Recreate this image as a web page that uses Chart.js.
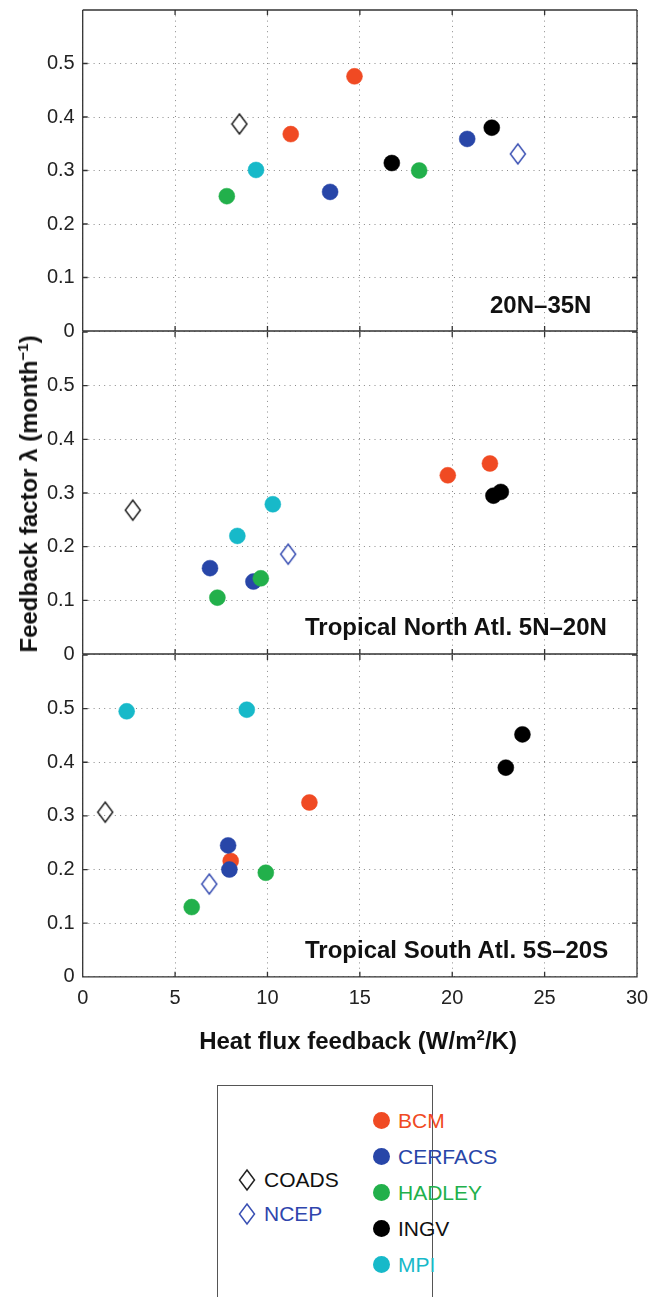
<!DOCTYPE html>
<html>
<head>
<meta charset="utf-8">
<script src="https://cdn.jsdelivr.net/npm/chart.js@4.4.0/dist/chart.umd.min.js"></script>
<style>
  body { margin: 0; background: #fff; font-family: "Liberation Sans", Arial, sans-serif; }
  #wrap { position: relative; width: 650px; height: 1297px; overflow: hidden; }
  canvas { position: absolute; left: 0; }
  .lbl { position: absolute; font-weight: bold; font-size: 24px; line-height: 24px; color: #111; white-space: nowrap; }
  .lbl sup { font-size: 15px; line-height: 0; vertical-align: 9px; }
  #legend { position: absolute; left: 217px; top: 1085px; width: 214px; height: 260px; border: 1.5px solid #555; }
  .item { position: absolute; font-size: 21px; line-height: 22px; white-space: nowrap; }
  .dot { position: absolute; width: 17px; height: 17px; border-radius: 50%; }
</style>
</head>
<body>
<div id="wrap">
  <canvas id="p0"></canvas>
  <canvas id="p1"></canvas>
  <canvas id="p2"></canvas>
  <div class="lbl" id="r0"></div>
  <div class="lbl" id="r1"></div>
  <div class="lbl" id="r2"></div>
  <div class="lbl" style="left:358px;top:1029px;transform:translateX(-50%);">Heat flux feedback (W/m<sup>2</sup>/K)</div>
  <div class="lbl" style="left:28.5px;top:494px;transform:translate(-50%,-50%) rotate(-90deg);">Feedback factor λ (month<sup>−1</sup>)</div>
  <div id="legend"></div>
</div>
<script>
// Panel names, top to bottom
var regions = ["20N–35N", "Tropical North Atl. 5N–20N", "Tropical South Atl. 5S–20S"];

// Model runs: [heat flux feedback, feedback factor], one list per panel
var BCM = [[[11.26, 0.368], [14.71, 0.476]], [[19.76, 0.333], [22.04, 0.355]], [[12.27, 0.325], [8.01, 0.216]]];
var CERFACS = [[[13.39, 0.260], [20.81, 0.359]], [[6.89, 0.160], [9.24, 0.135]], [[7.87, 0.245], [7.94, 0.200]]];
var HADLEY = [[[7.80, 0.252], [18.21, 0.300]], [[7.29, 0.105], [9.64, 0.141]], [[9.91, 0.194], [5.90, 0.130]]];
var INGV = [[[16.73, 0.314], [22.14, 0.380]], [[22.23, 0.295], [22.63, 0.302]], [[23.80, 0.452], [22.90, 0.390]]];
var MPI = [[[9.38, 0.301]], [[8.37, 0.220], [10.29, 0.279]], [[2.38, 0.495], [8.88, 0.498]]];

// Observations
var COADS = [[[8.48, 0.387]], [[2.71, 0.268]], [[1.22, 0.307]]];
var NCEP = [[[23.55, 0.331]], [[11.12, 0.186]], [[6.85, 0.173]]];

var models = [
  { name: "BCM", data: BCM, color: "#f04a23" },
  { name: "CERFACS", data: CERFACS, color: "#2846a8" },
  { name: "HADLEY", data: HADLEY, color: "#22b04b" },
  { name: "INGV", data: INGV, color: "#000000" },
  { name: "MPI", data: MPI, color: "#17b9c9" }
];
var obs = [
  { name: "COADS", data: COADS, color: "#222222", text: "#111111" },
  { name: "NCEP", data: NCEP, color: "#3a50b3", text: "#2f45ad" }
];

Chart.defaults.font.family = '"Liberation Sans", Arial, sans-serif';
Chart.defaults.color = "#222";

// Hollow diamond marker, a bit taller than wide
function diamond(color) {
  var c = document.createElement("canvas");
  c.width = 18;
  c.height = 24;
  var g = c.getContext("2d");
  g.strokeStyle = color;
  g.lineWidth = 1.5;
  g.beginPath();
  g.moveTo(9, 2);
  g.lineTo(16.5, 12);
  g.lineTo(9, 22);
  g.lineTo(1.5, 12);
  g.closePath();
  g.stroke();
  return c;
}

// Box round the axes with inward tick marks (top edge only on the first panel,
// the others share the bottom edge of the panel above)
var frame = {
  id: "frame",
  beforeDatasetsDraw: function (chart) {
    var ctx = chart.ctx, a = chart.chartArea, x = chart.scales.x, y = chart.scales.y;
    ctx.save();
    ctx.strokeStyle = "#333";
    ctx.lineWidth = 1.3;
    ctx.beginPath();
    if (chart.options.firstPanel) {
      ctx.moveTo(a.left, a.top); ctx.lineTo(a.right, a.top);
    }
    ctx.moveTo(a.right, a.top); ctx.lineTo(a.right, a.bottom);
    ctx.lineTo(a.left, a.bottom); ctx.lineTo(a.left, a.top);
    x.ticks.forEach(function (t) {
      var px = x.getPixelForValue(t.value);
      ctx.moveTo(px, a.bottom); ctx.lineTo(px, a.bottom - 5);
      ctx.moveTo(px, a.top); ctx.lineTo(px, a.top + 5);
    });
    y.ticks.forEach(function (t) {
      var py = y.getPixelForValue(t.value);
      ctx.moveTo(a.left, py); ctx.lineTo(a.left + 5, py);
      ctx.moveTo(a.right, py); ctx.lineTo(a.right - 5, py);
    });
    ctx.stroke();
    ctx.restore();
  }
};

// labels may hang over the plot edge; keep the plot box fixed anyway
function noPad(s) {
  s.paddingTop = 0; s.paddingBottom = 0; s.paddingLeft = 0; s.paddingRight = 0;
}

var plotTop = 9, plotH = 322.6, plotLeft = 82.7, plotRight = 637;

regions.forEach(function (region, k) {
  var last = k === regions.length - 1;
  var axisH = last ? 40 : 0;
  var areaTop = plotTop + k * plotH;
  var canvasTop = Math.floor(areaTop - 10);
  var padTop = areaTop - canvasTop;
  var canvasH = Math.ceil(padTop + plotH + 10 + axisH);
  var canvas = document.getElementById("p" + k);
  canvas.width = 650;
  canvas.height = canvasH;
  canvas.style.top = canvasTop + "px";

  var datasets = [];
  models.forEach(function (m, i) {
    datasets.push({
      label: m.name,
      data: m.data[k].map(function (p) { return { x: p[0], y: p[1] }; }),
      backgroundColor: m.color,
      borderColor: m.color,
      borderWidth: 0.5,
      pointRadius: 8,
      order: 20 - i
    });
  });
  obs.forEach(function (o, i) {
    datasets.push({
      label: o.name,
      data: o.data[k].map(function (p) { return { x: p[0], y: p[1] }; }),
      pointStyle: diamond(o.color),
      pointRadius: 10,
      order: 5 - i
    });
  });

  new Chart(canvas, {
    type: "scatter",
    data: { datasets: datasets },
    plugins: [frame],
    options: {
      firstPanel: k === 0,
      responsive: false,
      animation: false,
      events: [],
      layout: { padding: { top: padTop, left: 0, right: 650 - plotRight, bottom: canvasH - padTop - plotH - axisH } },
      plugins: { legend: { display: false }, tooltip: { enabled: false } },
      scales: {
        x: {
          min: 0, max: 30,
          afterFit: function (s) { s.height = axisH; noPad(s); },
          ticks: { stepSize: 5, display: last, padding: 10, font: { size: 20 }, color: "#222" },
          grid: { drawTicks: false, color: "#8a8a8a", lineWidth: 1 },
          border: { display: false, dash: [1, 4.3] }
        },
        y: {
          min: 0, max: 0.6,
          afterFit: function (s) { s.width = plotLeft; noPad(s); },
          ticks: {
            stepSize: 0.1, padding: 8, font: { size: 20 }, color: "#222",
            callback: function (v) { return v > 0.55 ? "" : (v === 0 ? "0" : v.toFixed(1)); }
          },
          grid: {
            drawTicks: false, lineWidth: 1,
            color: function (c) { return c.tick && c.tick.value > 0.55 ? "rgba(0,0,0,0)" : "#8a8a8a"; }
          },
          border: { display: false, dash: [1, 4.3] }
        }
      }
    }
  });
});

// Region labels inside each panel
var regionPos = [[490, 293], [305, 615], [305, 938]];
regions.forEach(function (r, k) {
  var el = document.getElementById("r" + k);
  el.textContent = r;
  el.style.left = regionPos[k][0] + "px";
  el.style.top = regionPos[k][1] + "px";
});

// Legend: observations on the left, models on the right
var legend = document.getElementById("legend");
function addItem(left, top, marker, name, color) {
  var d = document.createElement("div");
  d.className = "item";
  d.style.left = left + "px";
  d.style.top = top + "px";
  d.style.color = color;
  d.appendChild(marker);
  var s = document.createElement("span");
  s.textContent = name;
  s.style.marginLeft = "24px";
  d.appendChild(s);
  legend.appendChild(d);
}
models.forEach(function (m, i) {
  var dot = document.createElement("span");
  dot.className = "dot";
  dot.style.background = m.color;
  dot.style.left = "-1px";
  dot.style.top = "2px";
  addItem(156, 24 + i * 36, dot, m.name, m.color === "#000000" ? "#111" : m.color);
});
obs.forEach(function (o, i) {
  var c = diamond(o.color);
  c.style.position = "absolute";
  c.style.left = "-2px";
  c.style.top = "-1px";
  addItem(22, 83 + i * 34, c, o.name, o.text);
});
</script>
</body>
</html>
